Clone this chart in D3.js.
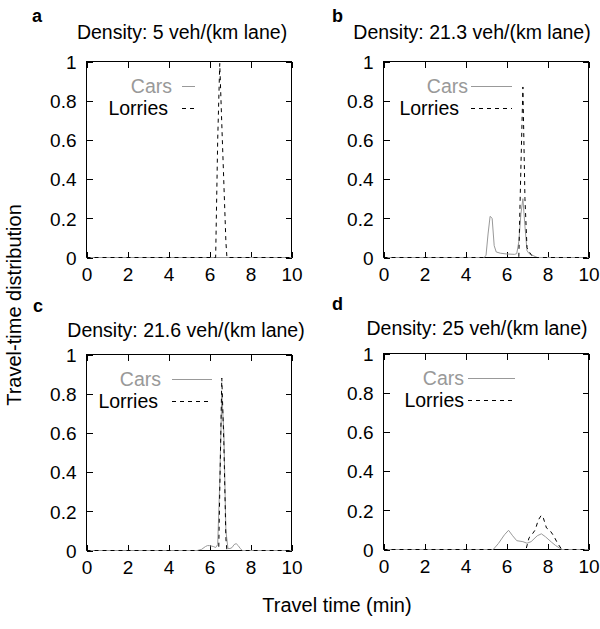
<!DOCTYPE html>
<html><head><meta charset="utf-8">
<script src="https://cdn.jsdelivr.net/npm/d3@7"></script>
<style>
body{margin:0;background:#fff;}
text{font-family:"Liberation Sans",Arial,Helvetica,sans-serif;}
</style>
</head><body>
<svg id="chart" width="600" height="629"></svg>
<script>
// ---------- data ----------
const xTicks = [0, 2, 4, 6, 8, 10];
const yTicks = [0, 0.2, 0.4, 0.6, 0.8, 1];
const yTickLabels = ["0", "0.2", "0.4", "0.6", "0.8", "1"];
const xTickLabels = ["0", "2", "4", "6", "8", "10"];
const panelLetters = ["a", "b", "c", "d"];
const panelTitles = ["Density: 5 veh/(km lane)", "Density: 21.3 veh/(km lane)",
                     "Density: 21.6 veh/(km lane)", "Density: 25 veh/(km lane)"];
const seriesNames = ["Cars", "Lorries"];
const xLabel = "Travel time (min)";
const yLabel = "Travel-time distribution";

// panel a
const carsA_t = [0, 10];
const carsA_v = [0, 0];
const lorriesA_t = [0, 6.3, 6.4, 6.5, 6.6, 6.7, 6.8, 6.85, 10];
const lorriesA_v = [0, 0, 0.6, 0.99, 0.68, 0.38, 0.08, 0, 0];
// panel b
const carsB_t = [0, 4.9, 5.0, 5.1, 5.2, 5.3, 5.4, 5.5, 5.7, 6.0, 6.4, 6.5, 6.6, 6.7, 6.8, 6.9, 7.0, 7.1, 7.2, 7.3, 7.4, 7.5, 10];
const carsB_v = [0, 0, 0.01, 0.12, 0.21, 0.2, 0.06, 0.028, 0.022, 0.018, 0.016, 0.02, 0.08, 0.22, 0.3, 0.16, 0.035, 0.02, 0.015, 0.01, 0.005, 0, 0];
const lorriesB_t = [0, 6.6, 6.7, 6.8, 6.9, 7.0, 7.1, 7.2, 7.3, 10];
const lorriesB_v = [0, 0, 0.45, 0.87, 0.3, 0.05, 0.03, 0.015, 0, 0];
// panel c
const carsC_t = [0, 5.4, 5.6, 5.8, 5.9, 6.0, 6.2, 6.3, 6.4, 6.5, 6.6, 6.7, 6.8, 6.9, 7.0, 7.1, 7.2, 7.3, 7.4, 7.5, 7.6, 10];
const carsC_v = [0, 0, 0.005, 0.02, 0.025, 0.025, 0.02, 0.015, 0.03, 0.35, 0.8, 0.6, 0.1, 0.01, 0.01, 0.015, 0.03, 0.035, 0.025, 0.01, 0, 0];
const lorriesC_t = [0, 6.45, 6.5, 6.6, 6.7, 6.8, 6.85, 10];
const lorriesC_v = [0, 0, 0.3, 0.88, 0.55, 0.06, 0, 0];
// panel d
const carsD_t = [0, 5.35, 5.6, 5.9, 6.1, 6.3, 6.5, 6.8, 7.0, 7.2, 7.5, 7.7, 7.9, 8.2, 8.4, 8.7, 10];
const carsD_v = [0, 0, 0.03, 0.075, 0.098, 0.07, 0.045, 0.04, 0.032, 0.04, 0.07, 0.08, 0.065, 0.037, 0.02, 0, 0];
const lorriesD_t = [0, 6.95, 7.1, 7.2, 7.4, 7.55, 7.7, 7.8, 7.95, 8.1, 8.3, 8.5, 8.7, 10];
const lorriesD_v = [0, 0, 0.06, 0.07, 0.1, 0.15, 0.175, 0.16, 0.11, 0.1, 0.07, 0.03, 0, 0];

// ---------- layout ----------
const panels = [
  {left: 86,  top: 61,  cars: [carsA_t, carsA_v], lorries: [lorriesA_t, lorriesA_v],
   titleX: 182, titleY: 39, letterX: 32, letterY: 22,
   legTextX: [172, 168], legLine: [182, 195]},
  {left: 383, top: 61,  cars: [carsB_t, carsB_v], lorries: [lorriesB_t, lorriesB_v],
   titleX: 472, titleY: 39, letterX: 332, letterY: 22,
   legTextX: [468, 459], legLine: [471, 512]},
  {left: 86,  top: 354, cars: [carsC_t, carsC_v], lorries: [lorriesC_t, lorriesC_v],
   titleX: 186, titleY: 337, letterX: 33, letterY: 312,
   legTextX: [161, 158], legLine: [172, 212]},
  {left: 383, top: 353, cars: [carsD_t, carsD_v], lorries: [lorriesD_t, lorriesD_v],
   titleX: 477, titleY: 335, letterX: 332, letterY: 310,
   legTextX: [464, 464], legLine: [468, 515]}
];
const PW = 205, PH = 196, TICK = 6;
const GRAY = "#999999";

const svg = d3.select("#chart");
svg.append("rect").attr("width", 600).attr("height", 629).attr("fill", "#fff");

panels.forEach((p, i) => {
  const x = d3.scaleLinear().domain([0, 10]).range([p.left + 0.5, p.left + PW + 0.5]);
  const y = d3.scaleLinear().domain([0, 1]).range([p.top + PH + 0.5, p.top + 0.5]);
  const g = svg.append("g");

  // border
  g.append("rect").attr("x", x(0)).attr("y", y(1)).attr("width", x(10) - x(0)).attr("height", y(0) - y(1))
    .attr("fill", "none").attr("stroke", "#000").attr("stroke-width", 1).attr("shape-rendering", "crispEdges");

  // axes with inward ticks (mirrored)
  const axB = g.append("g").attr("transform", `translate(0,${y(0)})`)
    .call(d3.axisBottom(x).tickValues(xTicks).tickSize(-TICK).tickPadding(TICK + 4).tickFormat((d, k) => xTickLabels[k]));
  const axT = g.append("g").attr("transform", `translate(0,${y(1)})`)
    .call(d3.axisTop(x).tickValues(xTicks).tickSize(-TICK).tickFormat(""));
  const axL = g.append("g").attr("transform", `translate(${x(0)},0)`)
    .call(d3.axisLeft(y).tickValues(yTicks).tickSize(-TICK).tickPadding(TICK + 4).tickFormat((d, k) => yTickLabels[k]));
  const axR = g.append("g").attr("transform", `translate(${x(10)},0)`)
    .call(d3.axisRight(y).tickValues(yTicks).tickSize(-TICK).tickFormat(""));
  [axB, axT, axL, axR].forEach(a => {
    a.select(".domain").remove();
    a.selectAll("line").attr("stroke", "#000").attr("shape-rendering", "crispEdges");
    a.selectAll("text").attr("fill", "#000").style("font-size", "19px")
      .style("font-family", '"Liberation Sans",Arial,sans-serif');
  });
  axB.selectAll("text").attr("dy", "0.71em");
  axL.selectAll("text").attr("dy", "0.36em");

  const line = d3.line().x(d => x(d[0])).y(d => y(d[1]));
  const cars = p.cars[0].map((t, k) => [t, p.cars[1][k]]);
  const lorries = p.lorries[0].map((t, k) => [t, p.lorries[1][k]]);
  g.append("path").datum(cars).attr("d", line).attr("fill", "none")
    .attr("stroke", GRAY).attr("stroke-width", 1);
  g.append("path").datum(lorries).attr("d", line).attr("fill", "none")
    .attr("stroke", "#000").attr("stroke-width", 1).attr("stroke-dasharray", "4,4");

  // legend
  const rows = [24.5, 46.5];
  seriesNames.forEach((name, k) => {
    const ly = Math.round(p.top + rows[k]) + 0.5;
    g.append("text").attr("x", p.legTextX[k]).attr("y", ly + 6.5).attr("text-anchor", "end")
      .attr("fill", k === 0 ? GRAY : "#000").style("font-size", "19.5px").text(name);
    g.append("line").attr("x1", p.legLine[0]).attr("x2", p.legLine[1]).attr("y1", ly).attr("y2", ly)
      .attr("stroke", k === 0 ? GRAY : "#000").attr("stroke-width", 1)
      .attr("stroke-dasharray", k === 0 ? null : "4,4");
  });

  // title and letter
  svg.append("text").attr("x", p.titleX).attr("y", p.titleY).attr("text-anchor", "middle")
    .style("font-size", "19.5px").attr("fill", "#000").text(panelTitles[i]);
  svg.append("text").attr("x", p.letterX).attr("y", p.letterY)
    .style("font-size", "18px").style("font-weight", "bold").attr("fill", "#000").text(panelLetters[i]);
});

svg.append("text").attr("x", 337).attr("y", 612).attr("text-anchor", "middle")
  .style("font-size", "20px").attr("fill", "#000").text(xLabel);
svg.append("text").attr("transform", "translate(21,305) rotate(-90)").attr("text-anchor", "middle")
  .style("font-size", "20px").attr("fill", "#000").text(yLabel);
</script>
</body></html>
